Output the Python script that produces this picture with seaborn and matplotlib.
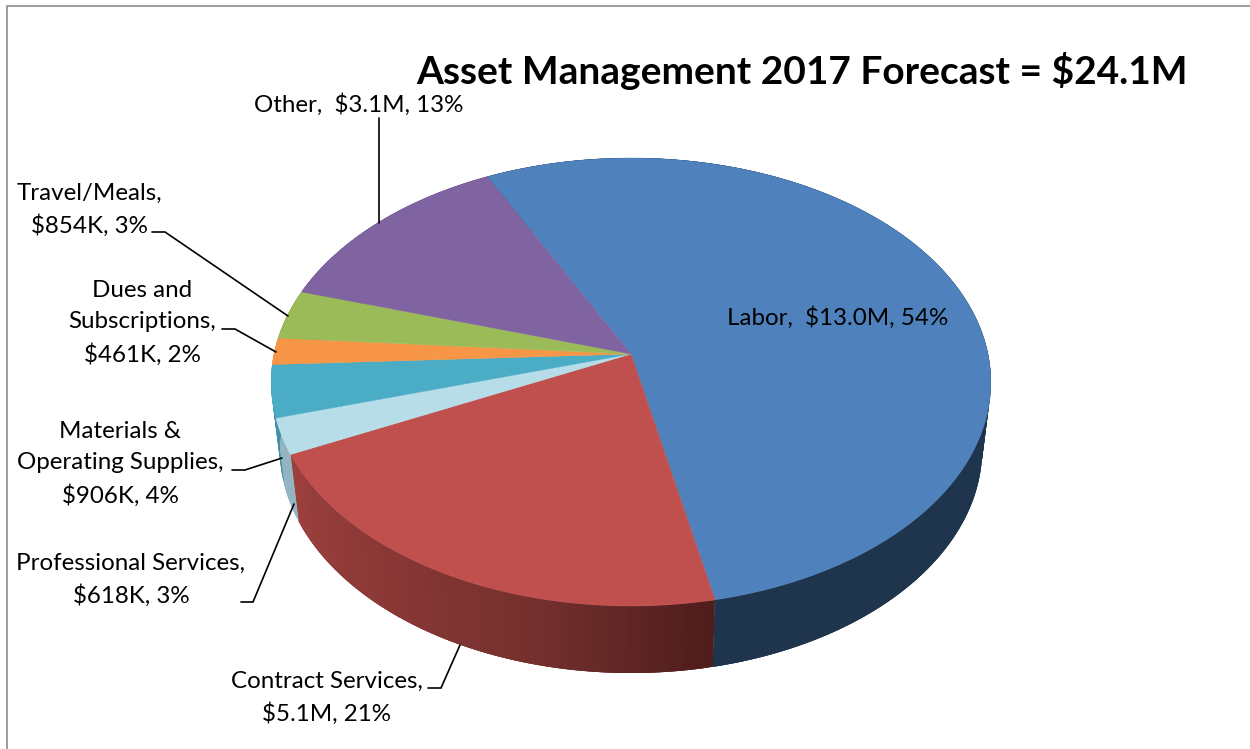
# -*- coding: utf-8 -*-
import numpy as np
import matplotlib
matplotlib.use("Agg")
import matplotlib.pyplot as plt
import seaborn as sns

# 2017 forecast in $M, clockwise from the top of the pie
categories = ["Labor", "Contract Services", "Professional Services",
              "Materials & Operating Supplies", "Dues and Subscriptions",
              "Travel/Meals", "Other"]
values = [13.0, 5.1, 0.618, 0.906, 0.461, 0.854, 3.1]
top_colors = ["#4F81BD", "#C0504D", "#B7DEE8", "#4BACC6", "#F79646", "#9BBB59", "#8064A2"]
# wall shades run clockwise, so dark right end of the red wall comes first
wall_colors = [["#1F344D"], ["#4E1D1C", "#74302E", "#8A3836", "#9C403D"], ["#93B5C1"],
               ["#3F8FA5"], ["#C47A38"], ["#7D9648"], ["#665082"]]

title = "Asset Management 2017 Forecast = $24.1M"
labels = ["Labor,  $13.0M, 54%", "Contract Services,\n$5.1M, 21%",
          "Professional Services,\n$618K, 3%", "Materials &\nOperating Supplies,\n$906K, 4%",
          "Dues and\nSubscriptions,\n$461K, 2%", "Travel/Meals,\n$854K, 3%",
          "Other,  $3.1M, 13%"]
label_xy = [(838, 318), (327, 698), (131, 580), (120, 464), (142, 323), (89, 210), (359, 105)]
leaders = [None,
           [(428, 688), (441, 688), (460, 645)],
           [(241, 602), (253, 602), (294, 504)],
           [(232, 470), (245, 470), (282, 458)],
           [(222, 329), (235, 329), (276, 352)],
           [(152, 232), (165, 232), (288, 316)],
           [(379, 118), (379, 223)]]

# pie geometry in pixels, the tilt gives the apex its off-centre place
CX, CY = 631, 354
A, B, K = 357, 220.5, 0.125
START = -26.6
DEPTH = 67
SHRINK = 0.976


def project(theta, lower=False):
    t = np.radians(theta)
    x, y = np.sin(t), np.cos(t)
    d = 1 + K * y
    px = A * x / d
    py = CY - B * y / d
    if lower:
        return CX + SHRINK * px, py + DEPTH
    return CX + px, py


sns.set_theme(style="white")
plt.rcParams['font.family'] = ['Lato', 'DejaVu Sans']

fig = plt.figure(figsize=(12.5, 7.49), dpi=100)
ax = fig.add_axes([0, 0, 1, 1])
ax.set_xlim(0, 1250)
ax.set_ylim(749, 0)
ax.axis("off")

ax.plot([6.5, 6.5, 1250], [749, 5.5, 5.5], color="#8C8C8C", lw=1.2, solid_joinstyle="miter")

total = sum(values)
edges = START + 360 * np.concatenate([[0], np.cumsum(values)]) / total

# side walls first, the top faces then hide the back part
for i, shades in enumerate(wall_colors):
    steps = max(2, int(edges[i + 1] - edges[i]) * 2)
    thetas = np.linspace(edges[i], edges[i + 1], steps + 1)
    pal = sns.blend_palette(shades * 2 if len(shades) == 1 else shades, steps)
    for j in range(steps):
        # each strip runs into the next one so no seams show
        arc = np.linspace(thetas[j], thetas[min(j + 3, steps)], 8)
        xt, yt = project(arc)
        xb, yb = project(arc[::-1], lower=True)
        ax.fill(np.r_[xt, xb], np.r_[yt, yb], color=pal[j], lw=0)

for i, col in enumerate(top_colors):
    thetas = np.linspace(edges[i], edges[i + 1], 200)
    xs, ys = project(thetas)
    ax.fill(np.r_[CX, xs], np.r_[CY, ys], color=col, lw=0.3)

for pts in leaders:
    if pts is not None:
        ax.plot(*zip(*pts), color="black", lw=1.2, solid_joinstyle="miter")

for txt, (x, y) in zip(labels, label_xy):
    ax.text(x, y, txt, ha="center", va="center", fontsize=17.4, color="black", linespacing=1.58)

ax.text(802, 71, title, ha="center", va="center", fontsize=28, fontweight="bold", color="black")

fig.savefig("out.png", dpi=100)
